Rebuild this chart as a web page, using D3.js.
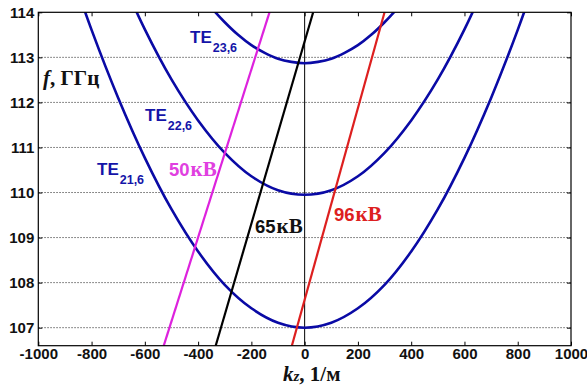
<!DOCTYPE html>
<html>
<head>
<meta charset="utf-8">
<script src="https://cdn.jsdelivr.net/npm/d3@7"></script>
<style>
  html, body { margin: 0; padding: 0; background: #fff; }
  svg { display: block; }
</style>
</head>
<body>
<svg id="chart" width="587" height="387"></svg>
<script>
// Axis ticks
const xTicks = [-1000, -800, -600, -400, -200, 0, 200, 400, 600, 800, 1000];
const yTicks = [107, 108, 109, 110, 111, 112, 113, 114];

// Dispersion curves of the TE modes: kz (1/м) and f (ГГц)
const te21Kz = [-900, -800, -700, -600, -500, -400, -300, -200, -100, 0, 100, 200, 300, 400, 500, 600, 700, 800, 900];
const te21F  = [115.30, 113.61, 112.10, 110.77, 109.63, 108.69, 107.95, 107.43, 107.11, 107.00, 107.11, 107.43, 107.95, 108.69, 109.63, 110.77, 112.10, 113.61, 115.30];

const te22Kz = [-700, -600, -500, -400, -300, -200, -100, 0, 100, 200, 300, 400, 500, 600, 700];
const te22F  = [114.92, 113.62, 112.51, 111.60, 110.88, 110.36, 110.05, 109.95, 110.05, 110.36, 110.88, 111.60, 112.51, 113.62, 114.92];

const te23Kz = [-400, -350, -300, -250, -200, -150, -100, -50, 0, 50, 100, 150, 200, 250, 300, 350, 400];
const te23F  = [114.47, 114.10, 113.78, 113.50, 113.27, 113.10, 112.97, 112.90, 112.87, 112.90, 112.97, 113.10, 113.27, 113.50, 113.78, 114.10, 114.47];

// Beam lines for the three voltages (end points, kz and f)
const beam50Kz = [-529, -132];
const beam50F  = [106.6, 114.0];
const beam65Kz = [-334, 32];
const beam65F  = [106.6, 114.0];
const beam96Kz = [-48, 300];
const beam96F  = [106.6, 114.0];

const W = 587, H = 387;
const plot = { left: 38.3, right: 571, top: 12.3, bottom: 345.7 };

const x = d3.scaleLinear().domain([-1000, 1000]).range([plot.left, plot.right]);
const y = d3.scaleLinear().domain([106.6, 114]).range([plot.bottom, plot.top]);

const svg = d3.select("#chart");

svg.append("defs").append("clipPath").attr("id", "plotClip")
  .append("rect")
  .attr("x", plot.left).attr("y", plot.top)
  .attr("width", plot.right - plot.left).attr("height", plot.bottom - plot.top);

// Horizontal dotted grid
svg.append("g")
  .selectAll("line")
  .data(yTicks.filter(v => v < 114))
  .join("line")
  .attr("x1", plot.left).attr("x2", plot.right)
  .attr("y1", d => y(d)).attr("y2", d => y(d))
  .attr("stroke", "#555")
  .attr("stroke-width", 0.9)
  .attr("stroke-dasharray", "1.5,1.5");

// kz = 0 line
svg.append("line")
  .attr("x1", x(0)).attr("x2", x(0))
  .attr("y1", plot.top).attr("y2", plot.bottom)
  .attr("stroke", "#000").attr("stroke-width", 1);

const zip = (ks, fs) => ks.map((k, i) => [k, fs[i]]);
const curve = d3.line().x(d => x(d[0])).y(d => y(d[1])).curve(d3.curveCatmullRom.alpha(0.5));
const straight = d3.line().x(d => x(d[0])).y(d => y(d[1]));

const marks = svg.append("g").attr("clip-path", "url(#plotClip)");

const blue = "#0a0aa5";
[[te21Kz, te21F], [te22Kz, te22F], [te23Kz, te23F]].forEach(([ks, fs]) => {
  marks.append("path")
    .attr("d", curve(zip(ks, fs)))
    .attr("fill", "none")
    .attr("stroke", blue)
    .attr("stroke-width", 2.6);
});

[[beam50Kz, beam50F, "#dd22dd"], [beam65Kz, beam65F, "#000000"], [beam96Kz, beam96F, "#dd1f1f"]]
  .forEach(([ks, fs, c]) => {
    marks.append("path")
      .attr("d", straight(zip(ks, fs)))
      .attr("fill", "none")
      .attr("stroke", c)
      .attr("stroke-width", 2.2);
  });

// Axes: labelled bottom/left, inward ticks on all sides
const tickFont = g => g.selectAll("text")
  .attr("font-family", "'Liberation Sans', Arial, sans-serif")
  .attr("font-weight", "bold")
  .attr("font-size", 15)
  .attr("fill", "#111");

const plain = d => String(d);
const axB = svg.append("g").attr("transform", `translate(0,${plot.bottom})`)
  .call(d3.axisBottom(x).tickValues(xTicks).tickSizeInner(-4).tickSizeOuter(0).tickPadding(2).tickFormat(plain));
const axL = svg.append("g").attr("transform", `translate(${plot.left},0)`)
  .call(d3.axisLeft(y).tickValues(yTicks).tickSizeInner(-4).tickSizeOuter(0).tickPadding(4).tickFormat(plain));
const axT = svg.append("g").attr("transform", `translate(0,${plot.top})`)
  .call(d3.axisTop(x).tickValues(xTicks).tickSizeInner(-4).tickSizeOuter(0).tickFormat(""));
const axR = svg.append("g").attr("transform", `translate(${plot.right},0)`)
  .call(d3.axisRight(y).tickValues(yTicks).tickSizeInner(-4).tickSizeOuter(0).tickFormat(""));

[axB, axL, axT, axR].forEach(g => {
  g.select(".domain").remove();
  g.selectAll(".tick line").attr("stroke", "#000").attr("stroke-width", 1);
  tickFont(g);
});
axL.selectAll("text").attr("dy", "0.35em");
axB.selectAll("text").attr("dy", "0.75em");

// Plot frame
svg.append("rect")
  .attr("x", plot.left).attr("y", plot.top)
  .attr("width", plot.right - plot.left).attr("height", plot.bottom - plot.top)
  .attr("fill", "none").attr("stroke", "#000").attr("stroke-width", 1.2);

// Axis titles
const serif = "'Liberation Serif', 'Times New Roman', serif";
const fLabel = svg.append("text").attr("x", 43).attr("y", 85)
  .attr("font-family", serif).attr("font-weight", "bold").attr("font-size", 21).attr("fill", "#111");
fLabel.append("tspan").attr("font-style", "italic").text("f");
fLabel.append("tspan").text(", ГГц");

const kLabel = svg.append("text").attr("x", 283).attr("y", 381)
  .attr("font-family", serif).attr("font-weight", "bold").attr("font-size", 21).attr("fill", "#111");
kLabel.append("tspan").attr("font-style", "italic").text("k");
kLabel.append("tspan").attr("font-style", "italic").attr("font-size", 15).text("z");
kLabel.append("tspan").text(", 1/м");

// Mode labels
const sans = "'Liberation Sans', Arial, sans-serif";
const modeLabel = (tx, ty, sub) => {
  const t = svg.append("text").attr("x", tx).attr("y", ty)
    .attr("font-family", sans).attr("font-weight", "bold").attr("font-size", 17).attr("fill", "#1414a8");
  t.append("tspan").text("TE");
  t.append("tspan").attr("font-size", 12.5).attr("dy", 9).attr("dx", 1).text(sub);
};
modeLabel(190, 43, "23,6");
modeLabel(145, 121, "22,6");
modeLabel(97, 175, "21,6");

// Voltage labels
const voltLabel = (tx, ty, num, color) => {
  const t = svg.append("text").attr("x", tx).attr("y", ty)
    .attr("font-weight", "bold").attr("fill", color);
  t.append("tspan").attr("font-family", sans).attr("font-size", 18.5).text(num);
  t.append("tspan").attr("font-family", serif).attr("font-size", 21).attr("dx", 1).text("кВ");
};
voltLabel(169, 176, "50", "#e040e0");
voltLabel(255, 233, "65", "#111");
voltLabel(334, 221, "96", "#dd2020");
</script>
</body>
</html>
